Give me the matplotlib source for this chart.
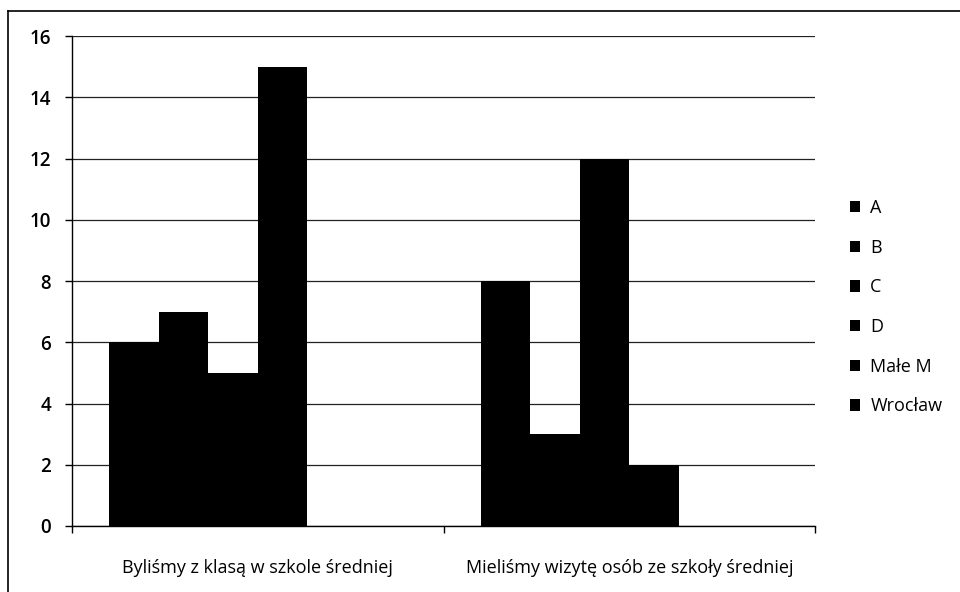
import numpy as np
import matplotlib.pyplot as plt
from matplotlib.lines import Line2D

# Data
categories = ["Byliśmy z klasą w szkole średniej", "Mieliśmy wizytę osób ze szkoły średniej"]
series_names = ["A", "B", "C", "D", "Małe M", "Wrocław"]
values_A = [6, 8]
values_B = [7, 3]
values_C = [5, 12]
values_D = [15, 2]
values_male_m = [0, 0]
values_wroclaw = [0, 0]
y_ticks = [0, 2, 4, 6, 8, 10, 12, 14, 16]

all_values = [values_A, values_B, values_C, values_D, values_male_m, values_wroclaw]

plt.rcParams['font.family'] = ['Open Sans', 'DejaVu Sans']

fig = plt.figure(figsize=(9.6, 5.92), dpi=100)
ax = fig.add_axes([0.075, 0.1115, 0.774, 0.8275])

n = len(series_names)
width = 0.8 / n
x = np.arange(len(categories))
for i, (name, vals) in enumerate(zip(series_names, all_values)):
    offs = (i - (n - 1) / 2) * width
    ax.bar(x + offs, vals, width, color='black', label=name, zorder=3)

ax.set_xlim(-0.5, len(categories) - 0.5)
ax.set_ylim(0, 16)
ax.set_yticks(y_ticks)
ax.tick_params(axis='y', labelsize=13.5, length=5, width=1, pad=10)
for lbl in ax.get_yticklabels():
    lbl.set_fontweight('semibold')

# category labels at centers, tick marks at boundaries
ax.set_xticks(np.arange(len(categories) + 1) - 0.5)
ax.set_xticklabels([])
ax.set_xticks(x, minor=True)
ax.set_xticklabels(categories, minor=True, fontsize=13)
ax.tick_params(axis='x', which='major', length=5, width=1)
ax.tick_params(axis='x', which='minor', length=0, pad=24)

ax.yaxis.grid(True, color='#222222', linewidth=0.9, zorder=0)
ax.set_axisbelow(True)
for s in ['top', 'right']:
    ax.spines[s].set_visible(False)
ax.spines['left'].set_linewidth(1)
ax.spines['bottom'].set_linewidth(1)

ax.legend(loc='center left', bbox_to_anchor=(0.868, 0.481), bbox_transform=fig.transFigure,
          frameon=False, fontsize=13, handlelength=0.6, handleheight=0.6,
          handletextpad=0.55, labelspacing=1.2)

# outer chart border (left and top only visible)
fig.add_artist(Line2D([0.0085, 0.0085], [0.0, 0.981], transform=fig.transFigure, color='black', linewidth=1.2))
fig.add_artist(Line2D([0.0085, 1.0], [0.981, 0.981], transform=fig.transFigure, color='black', linewidth=1.2))

fig.savefig('out.png', dpi=100)
